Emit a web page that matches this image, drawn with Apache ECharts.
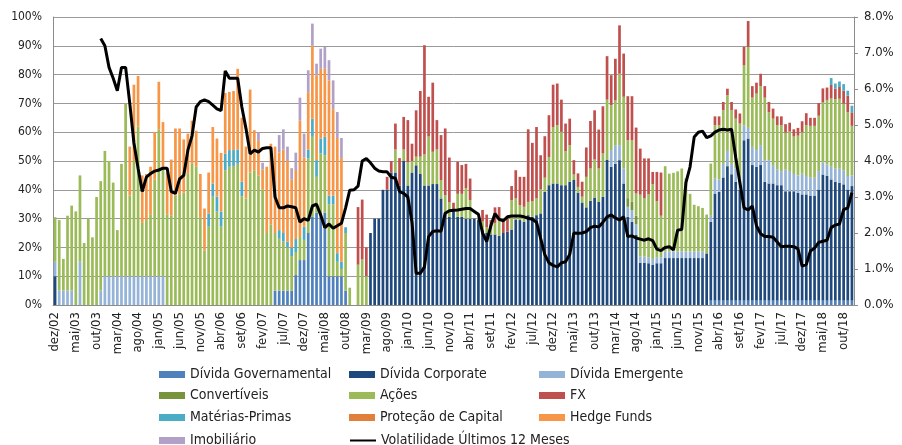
<!DOCTYPE html>
<html>
<head>
<meta charset="utf-8">
<script src="https://cdn.jsdelivr.net/npm/echarts@6/dist/echarts.min.js"></script>
<style>
  html, body { margin: 0; padding: 0; background: #fff; }
  #chart { width: 902px; height: 445px; }
</style>
</head>
<body>
<div id="chart"></div>
<script>
// categorias mensais: dez/02 ... dez/18
var meses = ['jan', 'fev', 'mar', 'abr', 'mai', 'jun', 'jul', 'ago', 'set', 'out', 'nov', 'dez'];
var categorias = ['dez/02'];
for (var a = 3; a <= 18; a++) {
  for (var m = 0; m < 12; m++) {
    categorias.push(meses[m] + '/' + (a < 10 ? '0' + a : a));
  }
}

// pesos em % (uma linha por ano, a primeira é dez/02)
var dividaGov = [
  0,
  0, 0, 0, 0, 0, 0, 0, 0, 0, 0, 0, 0,
  0, 0, 0, 0, 0, 0, 0, 0, 0, 0, 0, 0,
  0, 0, 0, 0, 0, 0, 0, 0, 0, 0, 0, 0,
  0, 0, 0, 0, 0, 0, 0, 0, 0, 0, 0, 0,
  0, 0, 0, 0, 5, 5, 5, 5, 5, 10.4, 15.6, 15.6,
  25, 30.6, 32, 30.6, 32, 10, 10, 10, 10, 5, 0, 0,
  0, 0, 0, 0, 0, 0, 0, 0, 0, 0, 0, 0,
  0, 0, 0, 0, 0, 0, 0, 0, 0, 0, 0, 0,
  0, 0, 0, 0, 0, 0, 0, 0, 0, 0, 0, 0,
  0, 0, 0, 0, 0, 0, 0, 0, 0, 0, 0, 0,
  0, 0, 0, 0, 0, 0, 0, 0, 0, 0, 0, 0,
  0, 0, 0, 0, 0, 0, 0, 0, 0, 0, 0, 0,
  0, 0, 0, 0, 0, 0, 0, 0, 0, 0, 0, 0,
  0, 1.5, 1.5, 1.5, 1.5, 1.5, 1.5, 1.5, 1.5, 1.5, 1.5, 1.5,
  1.5, 1.5, 1.5, 1.5, 1.5, 1.5, 1.5, 1.5, 1.5, 1.5, 1.5, 1.5,
  1.5, 1.5, 1.5, 1.5, 1.5, 1.5, 1.5, 1.5, 1.5, 1.5, 1.5, 1.5
];

var dividaCorp = [
  10,
  0, 0, 0, 0, 0, 0, 0, 0, 0, 0, 0, 0,
  0, 0, 0, 0, 0, 0, 0, 0, 0, 0, 0, 0,
  0, 0, 0, 0, 0, 0, 0, 0, 0, 0, 0, 0,
  0, 0, 0, 0, 0, 0, 0, 0, 0, 0, 0, 0,
  0, 0, 0, 0, 0, 0, 0, 0, 0, 0, 0, 0,
  0, 0, 0, 0, 0, 0, 0, 0, 0, 0, 0, 0,
  0, 0, 0, 25, 30, 30, 40, 40, 46, 46, 41.5, 50,
  41.5, 46, 48.5, 45.5, 41.5, 41.5, 42, 42, 37, 32, 30.6, 33,
  30.6, 30.6, 30, 30, 30, 29.5, 26, 25, 24.5, 24.5, 24, 25,
  25.5, 26.2, 29.7, 29.5, 28.9, 31.2, 30.6, 31.2, 31.8, 39.3, 41.6, 42.2,
  42.2, 41.6, 41.6, 42.8, 43.4, 39, 35.6, 33.9, 36.2, 37.3, 35.8, 37.6,
  50.5, 48, 49, 50.3, 42.2, 30.6, 28.9, 24.3, 14.7, 14.7, 14.5, 13.9,
  14.5, 14.5, 16.3, 16.3, 16.3, 16.3, 16.3, 16.3, 16.3, 16.3, 16.3, 16.3,
  17.9, 27.4, 37.2, 37.8, 42.8, 46.7, 43.9, 41.3, 38.4, 55.7, 56.3, 47.1,
  46.5, 47.1, 41.3, 40.7, 40.7, 40.1, 40.1, 38, 38, 38, 37.5, 36.9,
  36.9, 36.5, 36.5, 38.6, 43.8, 43.3, 42.1, 41.3, 40.9, 40.4, 38.6, 39.8
];

var dividaEmerg = [
  5,
  5, 5, 5, 5, 0, 15, 0, 0, 0, 0, 5, 10,
  10, 10, 10, 10, 10, 10, 10, 10, 10, 10, 10, 10,
  10, 10, 0, 0, 0, 0, 0, 0, 0, 0, 0, 0,
  0, 0, 0, 0, 0, 0, 0, 0, 0, 0, 0, 0,
  0, 0, 0, 0, 0, 0, 0, 0, 0, 0, 0, 0,
  0, 0, 0, 0, 0, 0, 0, 0, 0, 0, 0, 0,
  0, 0, 0, 0, 0, 0, 0, 0, 0, 0, 0, 0,
  0, 0, 0, 0, 0, 0, 0, 0, 0, 0, 0, 0,
  0, 0, 0, 0, 0, 0, 0, 0, 0, 0, 0, 0,
  0, 0, 0, 0, 0, 0, 0, 0, 0, 0, 0, 0,
  0, 0, 0, 0, 0, 0, 0, 0, 0, 0, 0, 0,
  0, 5.8, 6.5, 5.2, 5.2, 3.5, 4, 3.7, 2.1, 2.1, 2.1, 2.1,
  2.1, 2.1, 2.3, 2.3, 2.3, 2.3, 2.3, 2.3, 2.3, 2.3, 2.3, 2.3,
  0, 2.1, 5.2, 4.3, 4.7, 5.3, 3.6, 4.7, 4.1, 5.2, 3.7, 6.3,
  5.8, 6.9, 7.5, 8.1, 6.4, 5.4, 4.9, 7.5, 7, 6, 6, 7.2,
  6.4, 6.2, 6.2, 6.4, 4.1, 4, 4.4, 4.7, 4.9, 4.9, 4.7, 3.7
];

var convertiveis = [
  0,
  0, 0, 0, 0, 0, 0, 0, 0, 0, 0, 0, 0,
  0, 0, 0, 0, 0, 0, 0, 0, 0, 0, 0, 0,
  0, 0, 0, 0, 0, 0, 0, 0, 0, 0, 0, 0,
  0, 0, 0, 0, 0, 0, 0, 0, 0, 0, 0, 0,
  0, 0, 0, 0, 0, 0, 0, 0, 0, 0, 0, 0,
  0, 0, 0, 0, 0, 0, 0, 0, 0, 0, 0, 0,
  0, 0, 0, 0, 0, 0, 0, 0, 0, 0, 0, 0,
  0, 0, 0, 0, 0, 0, 0, 0, 0, 0, 0, 0,
  0, 0, 0, 0, 0, 0, 0, 0, 0, 0, 0, 0,
  0, 0, 0, 0, 0, 0, 0, 0, 0, 0, 0, 0,
  0, 0, 0, 0, 0, 0, 0, 0, 0, 0, 0, 0,
  0, 0, 0, 0, 0, 3, 3, 3, 0, 0, 0, 0,
  0, 0, 0, 0, 0, 0, 0, 0, 0, 0, 0, 0,
  0, 0, 0, 0, 0, 0, 0, 0, 0, 0, 0, 0,
  0, 0, 0, 0, 0, 0, 0, 0, 0, 0, 0, 0,
  0, 0, 0, 0, 0, 0, 0, 0, 0, 0, 0, 0
];

var acoes = [
  15.5,
  24.5, 11, 26, 29.5, 32.5, 30, 21.5, 30, 23.5, 37.5, 38, 43.5,
  40, 32.5, 16, 39, 60, 28, 40, 52, 18.5, 19.5, 21.5, 33.5,
  51, 37.5, 31.5, 31, 38, 38.5, 39, 45.5, 49, 48, 30.5, 19,
  27.2, 37.6, 32.4, 27.2, 46.8, 48, 48.3, 49, 37.8, 37, 46, 46.8,
  45, 40, 25, 28, 20, 18, 17, 15, 12, 8, 8, 7,
  25.9, 27.8, 12.5, 22, 20, 25, 25, 5, 2.5, 20, 6, 0,
  14, 15.8, 10, 0, 0, 0, 0, 0, 0, 8, 0, 4,
  8, 4, 3, 6, 10.8, 17, 11.2, 12, 6.4, 6.1, 5, 0,
  8, 8, 10.6, 6.4, 0, 0.5, 3, 2, 2, 4, 6, 0,
  0, 10.2, 7.3, 5.2, 5.2, 4.6, 5.4, 5.8, 8.3, 4.9, 9.8, 19.6,
  20.2, 18.5, 11.8, 12.7, 1.9, 2, 2, 10.6, 11.2, 13.2, 11.6, 15,
  20.8, 15.6, 15.5, 24.8, 24.9, 20.1, 21.3, 7.7, 21.5, 20.2, 21.9, 26,
  19.4, 14.4, 29.6, 27, 27.3, 27.8, 28.8, 25.4, 20, 16.2, 15.7, 15.1,
  13.5, 18.1, 18.5, 18.8, 18.6, 19.3, 18.6, 17.2, 19, 20.8, 28.1, 17.1,
  19.6, 20.5, 21.7, 16.7, 16.1, 15.4, 15.9, 12.9, 13.7, 13, 13.8, 14.4,
  17.6, 18, 18, 19.2, 20.9, 22.4, 23.7, 24, 24.3, 23.1, 22.1, 17.2
];

var fx = [
  0,
  0, 0, 0, 0, 0, 0, 0, 0, 0, 0, 0, 0,
  0, 0, 0, 0, 0, 0, 0, 0, 0, 0, 0, 0,
  0, 0, 0, 0, 0, 0, 0, 0, 0, 0, 0, 0,
  0, 0, 0, 0, 0, 0, 0, 0, 0, 0, 0, 0,
  0, 0, 0, 0, 0, 0, 0, 0, 0, 0, 0, 0,
  0, 0, 0, 0, 0, 0, 0, 0, 0, 0, 0, 0,
  20, 20.8, 10, 0, 0, 0, 0, 4.5, 4, 9, 9.5, 11.3,
  14.7, 6, 16.1, 22.8, 37.9, 13.8, 24, 10.2, 15.6, 23.2, 15.6, 2.5,
  11.1, 10, 8.4, 7.5, 0, 0, 4, 4.4, 3, 5.4, 4, 4.5,
  5.1, 4.9, 9.8, 9.8, 10.4, 25.2, 20.3, 24.8, 11.9, 14.4, 14.5, 14.7,
  14.5, 11.2, 9.6, 9.2, 5, 4.7, 5.2, 10.2, 16.5, 17.1, 13.5, 16.4,
  15.1, 10.4, 14.5, 16.8, 15, 15.3, 15.3, 22.9, 16, 13.9, 12.4, 4.2,
  10.2, 15, 0, 0, 0, 0, 0, 0, 0, 0, 0, 0,
  0, 0, 3.1, 3.1, 2.9, 2.3, 2.9, 3.2, 3.5, 6.4, 9, 4,
  3.8, 4.3, 4, 3.5, 3.5, 3.1, 3.1, 2.9, 3.1, 2.5, 2.7, 3.8,
  4.2, 2.8, 2.8, 4.4, 4.9, 4.3, 4.7, 3.6, 4.1, 4.5, 5.8, 4.7
];

var materiasPrimas = [
  0,
  0, 0, 0, 0, 0, 0, 0, 0, 0, 0, 0, 0,
  0, 0, 0, 0, 0, 0, 0, 0, 0, 0, 0, 0,
  0, 0, 0, 0, 0, 0, 0, 0, 0, 0, 0, 0,
  4.6, 4.6, 5.2, 5.2, 5.8, 5.8, 5.5, 5, 5, 0, 0, 0,
  0, 0, 0, 0, 0, 3, 3, 2, 3, 4.5, 0, 4.6,
  3, 6.3, 5.8, 5.2, 6.4, 3, 3, 3, 2.5, 2, 0, 0,
  0, 0, 0, 0, 0, 0, 0, 0, 0, 0, 0, 0,
  0, 0, 0, 0, 0, 0, 0, 0, 0, 0, 0, 0,
  0, 0, 0, 0, 0, 0, 0, 0, 0, 0, 0, 0,
  0, 0, 0, 0, 0, 0, 0, 0, 0, 0, 0, 0,
  0, 0, 0, 0, 0, 0, 0, 0, 0, 0, 0, 0,
  0, 0, 0, 0, 0, 0, 0, 0, 0, 0, 0, 0,
  0, 0, 0, 0, 0, 0, 0, 0, 0, 0, 0, 0,
  0, 0, 0, 0, 0, 0, 0, 0, 0, 0, 0, 0,
  0, 0, 0, 0, 0, 0, 0, 0, 0, 0, 0, 0,
  0, 0, 0, 0, 0, 0, 2.4, 1.8, 1.9, 2.3, 1.7, 2.3
];

// sem posições visíveis no gráfico, só aparece na legenda
var protecaoCapital = [];

var hedgeFunds = [
  0,
  0, 0, 0, 0, 0, 0, 0, 0, 0, 0, 0, 0,
  0, 0, 0, 0, 0, 17, 26.5, 17.5, 16.5, 16, 16.5, 16.5,
  16.5, 16, 14.5, 19.5, 23.3, 22.8, 18.5, 14, 15, 12.5, 15, 14.5,
  14.2, 19.6, 20.2, 20.4, 21, 20.2, 20.5, 28, 22.2, 18, 28.8, 13.9,
  12, 7, 23, 28, 30, 27, 29, 28, 23.5, 24, 40.4, 24,
  20, 25.3, 29.5, 24.2, 23.6, 40, 30, 40, 36, 0, 0, 0,
  0, 0, 0, 0, 0, 0, 0, 0, 0, 0, 0, 0,
  0, 0, 0, 0, 0, 0, 0, 0, 0, 0, 0, 0,
  0, 0, 0, 0, 0, 0, 0, 0, 0, 0, 0, 0,
  0, 0, 0, 0, 0, 0, 0, 0, 0, 0, 0, 0,
  0, 0, 0, 0, 0, 0, 0, 0, 0, 0, 0, 0,
  0, 0, 0, 0, 0, 0, 0, 0, 0, 0, 0, 0,
  0, 0, 0, 0, 0, 0, 0, 0, 0, 0, 0, 0,
  0, 0, 0, 0, 0, 0, 0, 0, 0, 0, 0, 0,
  0, 0, 0, 0, 0, 0, 0, 0, 0, 0, 0, 0,
  0, 0, 0, 0, 0, 0, 0, 0, 0, 0, 0, 0
];

var imobiliario = [
  0,
  0, 0, 0, 0, 0, 0, 0, 0, 0, 0, 0, 0,
  0, 0, 0, 0, 0, 0, 0, 0, 0, 0, 0, 0,
  0, 0, 0, 0, 0, 0, 0, 0, 0, 0, 0, 0,
  0, 0, 0, 0, 0, 0, 0, 0, 0, 0, 0, 0,
  3, 2.4, 0, 0, 0, 6, 7, 5, 4, 6, 8, 8.3,
  7.6, 7.7, 4, 7, 7.6, 7, 10, 9, 7, 0, 0, 0,
  0, 0, 0, 0, 0, 0, 0, 0, 0, 0, 0, 0,
  0, 0, 0, 0, 0, 0, 0, 0, 0, 0, 0, 0,
  0, 0, 0, 0, 0, 0, 0, 0, 0, 0, 0, 0,
  0, 0, 0, 0, 0, 0, 0, 0, 0, 0, 0, 0,
  0, 0, 0, 0, 0, 0, 0, 0, 0, 0, 0, 0,
  0, 0, 0, 0, 0, 0, 0, 0, 0, 0, 0, 0,
  0, 0, 0, 0, 0, 0, 0, 0, 0, 0, 0, 0,
  0, 0, 0, 0, 0, 0, 0, 0, 0, 0, 0, 0,
  0, 0, 0, 0, 0, 0, 0, 0, 0, 0, 0, 0,
  0, 0, 0, 0, 0, 0, 0, 0, 0, 0, 0, 0
];

// volatilidade (eixo da direita, %)
var volatilidade = [
  null,
  null, null, null, null, null, null, null, null, null, null, 7.4, 7.2,
  6.6, 6.3, 5.95, 6.6, 6.6, 5.6, 4.5, 3.8, 3.15, 3.55, 3.65, 3.72,
  3.75, 3.8, 3.8, 3.15, 3.1, 3.5, 3.6, 4.3, 4.7, 5.5, 5.65, 5.7,
  5.65, 5.55, 5.45, 5.4, 6.5, 6.3, 6.3, 6.3, 5.5, 4.9, 4.2, 4.3,
  4.25, 4.35, 4.37, 4.37, 3.0, 2.7, 2.7, 2.75, 2.73, 2.7, 2.3, 2.4,
  2.35, 2.75, 2.8, 2.5, 2.15, 2.25, 2.13, 2.2, 2.27, 2.7, 3.19, 3.2,
  3.3, 4.0, 4.07, 3.95, 3.8, 3.72, 3.7, 3.7, 3.55, 3.52, 3.15, 3.1,
  3.0, 2.3, 0.88, 0.88, 1.06, 1.9, 2.04, 2.06, 2.05, 2.55, 2.62, 2.63,
  2.64, 2.66, 2.68, 2.68, 2.6, 2.52, 2.0, 1.76, 2.2, 2.54, 2.38, 2.34,
  2.45, 2.47, 2.47, 2.47, 2.45, 2.41, 2.38, 2.3, 1.85, 1.4, 1.17, 1.1,
  1.06, 1.17, 1.2, 1.4, 2.0, 1.99, 2.0, 2.04, 2.15, 2.19, 2.17, 2.3,
  2.45, 2.5, 2.42, 2.36, 2.45, 1.9, 1.92, 1.86, 1.83, 1.8, 1.84, 1.79,
  1.55, 1.51, 1.6, 1.62, 1.53, 2.08, 2.1, 3.4, 3.84, 4.67, 4.8, 4.83,
  4.65, 4.7, 4.8, 4.86, 4.88, 4.86, 4.88, 4.1, 3.4, 2.7, 2.64, 2.75,
  2.2, 1.98, 1.9, 1.9, 1.88, 1.75, 1.62, 1.63, 1.63, 1.62, 1.56, 1.08,
  1.12, 1.5, 1.58, 1.74, 1.77, 1.8, 2.15, 2.22, 2.25, 2.65, 2.7, 3.12
];

var fonte = '"Liberation Sans Narrow", "DejaVu Sans Condensed", "Liberation Sans", sans-serif';
var corTexto = '#222';

var chart = echarts.init(document.getElementById('chart'), null, { renderer: 'canvas' });

function barra(nome, dados, cor) {
  return {
    name: nome,
    type: 'bar',
    stack: 'total',
    data: dados,
    barCategoryGap: '35%',
    itemStyle: { color: cor },
    emphasis: { disabled: true }
  };
}

// legenda em grelha 3 colunas x 4 linhas: uma legenda por célula
var colunasLegenda = [159, 349, 539];
var linhasLegenda = [367, 388, 410, 433];
function itemLegenda(nome, col, lin, icone) {
  var item = { name: nome };
  if (icone) {
    item.icon = icone;
  } else {
    item.itemStyle = { opacity: 0 };
  }
  return {
    left: colunasLegenda[col],
    top: linhasLegenda[lin],
    padding: 0,
    itemWidth: 26,
    itemHeight: 7,
    selectedMode: false,
    data: [item],
    textStyle: { fontFamily: fonte, fontSize: 14, color: corTexto, lineHeight: 15 }
  };
}

var option = {
  animation: false,
  textStyle: { fontFamily: fonte },
  grid: { left: 53, right: 48, top: 17, bottom: 140, containLabel: false },
  legend: [
    itemLegenda('Dívida Governamental', 0, 0, 'rect'),
    itemLegenda('Convertíveis', 0, 1, 'rect'),
    itemLegenda('Matérias-Primas', 0, 2, 'rect'),
    itemLegenda('Imobiliário', 0, 3, 'rect'),
    itemLegenda('Dívida Corporate', 1, 0, 'rect'),
    itemLegenda('Ações', 1, 1, 'rect'),
    itemLegenda('Proteção de Capital', 1, 2, 'rect'),
    itemLegenda('Volatilidade Últimos 12 Meses', 1, 3, null),
    itemLegenda('Dívida Emergente', 2, 0, 'rect'),
    itemLegenda('FX', 2, 1, 'rect'),
    itemLegenda('Hedge Funds', 2, 2, 'rect')
  ],
  xAxis: {
    type: 'category',
    data: categorias,
    boundaryGap: true,
    axisLine: { lineStyle: { color: '#8c8c8c' } },
    axisTick: { show: false },
    axisLabel: {
      interval: 4,
      rotate: 90,
      margin: 7,
      fontFamily: fonte,
      fontSize: 13,
      color: corTexto
    }
  },
  yAxis: [
    {
      type: 'value',
      min: 0,
      max: 100,
      interval: 10,
      axisLine: { show: true, lineStyle: { color: '#8c8c8c' } },
      axisTick: { show: false },
      splitLine: { lineStyle: { color: '#9a9a9a', width: 1 } },
      axisLabel: {
        formatter: '{value}%',
        margin: 11,
        fontFamily: fonte,
        fontSize: 12,
        color: corTexto
      }
    },
    {
      type: 'value',
      min: 0,
      max: 8,
      interval: 1,
      position: 'right',
      axisLine: { show: true, lineStyle: { color: '#8c8c8c' } },
      axisTick: { show: true, length: 4, lineStyle: { color: '#8c8c8c' } },
      splitLine: { show: false },
      axisLabel: {
        formatter: function (v) { return v.toFixed(1) + '%'; },
        margin: 10,
        fontFamily: fonte,
        fontSize: 13,
        color: corTexto
      }
    }
  ],
  series: [
    barra('Dívida Governamental', dividaGov, '#4f81bd'),
    barra('Dívida Corporate', dividaCorp, '#1f497d'),
    barra('Dívida Emergente', dividaEmerg, '#95b3d7'),
    barra('Convertíveis', convertiveis, '#77933c'),
    barra('Ações', acoes, '#9bbb59'),
    barra('FX', fx, '#c0504d'),
    barra('Matérias-Primas', materiasPrimas, '#4bacc6'),
    barra('Proteção de Capital', protecaoCapital, '#e0803a'),
    barra('Hedge Funds', hedgeFunds, '#f79646'),
    barra('Imobiliário', imobiliario, '#b1a0c7'),
    {
      name: 'Volatilidade Últimos 12 Meses',
      type: 'line',
      yAxisIndex: 1,
      data: volatilidade,
      symbol: 'none',
      connectNulls: false,
      z: 10,
      lineStyle: { color: '#000', width: 3 },
      itemStyle: { color: '#000' },
      emphasis: { disabled: true }
    }
  ]
};

chart.setOption(option);
</script>
</body>
</html>
